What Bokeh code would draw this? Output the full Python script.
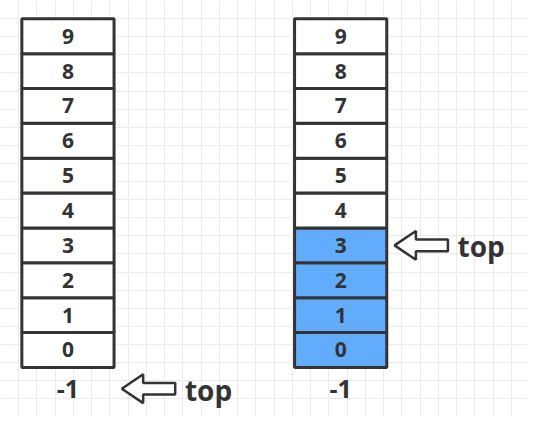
from bokeh.plotting import figure
from bokeh.models import SingleIntervalTicker, Range1d
from bokeh.core.properties import value
from bokeh.embed import file_html
from bokeh.resources import INLINE

# stack slots and which are filled
slots = list(range(10))
filled_left = []          # empty stack, top = -1
filled_right = [0, 1, 2, 3]  # top = 3
top_left = -1
top_right = 3

col_left = (22, 117)
col_right = (303, 398)
cell_h = 36.2
base_y = 381  # bottom of slot 0 (pixel space, y down)

p = figure(width=527, height=416, output_backend="svg", toolbar_location=None,
           x_range=Range1d(0, 543), y_range=Range1d(432, 0), min_border=0)
p.axis.visible = False
p.outline_line_color = None
p.background_fill_color = "white"
for g in (p.xgrid, p.ygrid):
    g.ticker = SingleIntervalTicker(interval=18.8)
    g.grid_line_color = "#ebebeb"
    g.grid_line_width = 1


def slot_y(i):
    return base_y - (i + 0.5) * cell_h


def draw_stack(col, filled):
    x0, x1 = col
    xs = [(x0 + x1) / 2] * len(slots)
    ys = [slot_y(i) for i in slots]
    colors = ["#62acfd" if i in filled else "white" for i in slots]
    p.rect(x=xs, y=ys, width=x1 - x0, height=cell_h, fill_color=colors,
           line_color="#333333", line_width=3)
    p.text(x=xs, y=ys, text=[str(i) for i in slots], text_align="center",
           text_baseline="middle", text_font=value("Open Sans"),
           text_font_style="bold", text_font_size="21px", text_color="#333333")


def draw_arrow(x, y, label):
    # hollow arrow pointing left, tip at x
    ax = [x, x + 22, x + 22, x + 55, x + 55, x + 22, x + 22]
    ay = [y, y - 15, y - 6, y - 6, y + 6, y + 6, y + 15]
    p.patch(ax, ay, fill_color="white", line_color="#333333", line_width=2.5)
    p.text(x=[x + 65], y=[y + 1], text=[label], text_baseline="middle",
           text_font=value("Open Sans"), text_font_style="bold",
           text_font_size="28px", text_color="#333333")


draw_stack(col_left, filled_left)
draw_stack(col_right, filled_right)

for col in (col_left, col_right):
    p.text(x=[(col[0] + col[1]) / 2], y=[slot_y(-1) + 4], text=["-1"],
           text_align="center", text_baseline="middle",
           text_font=value("Open Sans"), text_font_style="bold",
           text_font_size="25px", text_color="#333333")

draw_arrow(col_left[1] + 8, slot_y(top_left) + 4, "top")
draw_arrow(col_right[1] + 8, slot_y(top_right), "top")

open("out.html", "w").write(file_html(p, INLINE))
